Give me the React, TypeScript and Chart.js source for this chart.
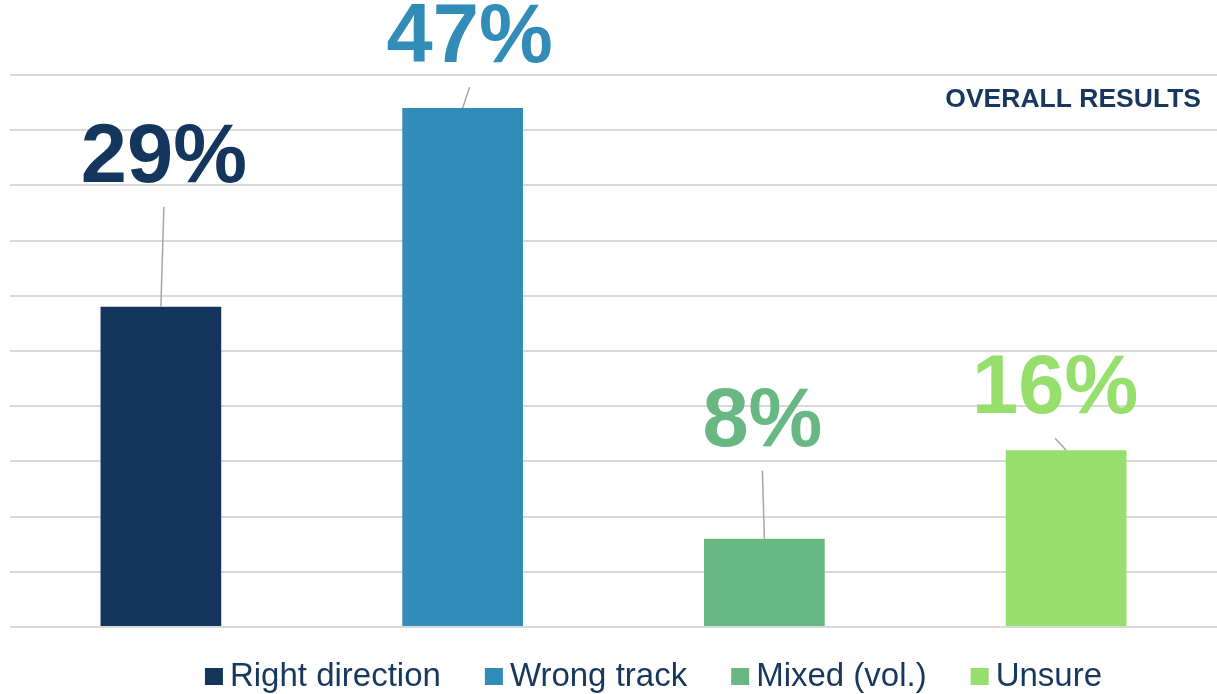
import React, { useEffect, useRef } from "react";
import { Chart, registerables } from "chart.js";

Chart.register(...registerables);

const categories = ["Right direction", "Wrong track", "Mixed (vol.)", "Unsure"];
const values = [29, 47, 8, 16];
const colors = ["#14365d", "#318cb8", "#69b884", "#96df6c"];
const yTicks = { min: 0, max: 50, step: 5 };
const panelTitle = "OVERALL RESULTS";
// label placement relative to bar top centre (px): [dx, dy to baseline]
const labelOffsets: [number, number][] = [
  [3, -125],
  [7, -46],
  [-2, -93],
  [-11, -37],
];

const LABEL_FONT = "bold 83px 'Liberation Sans', Arial, sans-serif";
const LEGEND_FONT = "33px 'Liberation Sans', Arial, sans-serif";
const TITLE_FONT = "bold 26.5px 'Liberation Sans', Arial, sans-serif";
const TEXT_COLOR = "#17375e";

const overlayPlugin = {
  id: "overlay",
  afterDatasetsDraw(chart: any) {
    const ctx = chart.ctx as CanvasRenderingContext2D;
    const meta = chart.getDatasetMeta(0);
    ctx.save();
    // data labels with leader lines
    meta.data.forEach((bar: any, i: number) => {
      const [dx, dy] = labelOffsets[i];
      const lx = bar.x + dx;
      const ly = bar.y + dy;
      ctx.strokeStyle = "#a6a6a6";
      ctx.lineWidth = 1.5;
      ctx.beginPath();
      ctx.moveTo(lx, ly + 25);
      ctx.lineTo(bar.x, bar.y);
      ctx.stroke();
      ctx.font = LABEL_FONT;
      ctx.fillStyle = colors[i];
      ctx.textAlign = "center";
      ctx.textBaseline = "alphabetic";
      ctx.fillText(values[i] + "%", lx, ly);
    });
    // panel title
    const area = chart.chartArea;
    ctx.font = TITLE_FONT;
    ctx.fillStyle = TEXT_COLOR;
    ctx.textAlign = "right";
    ctx.textBaseline = "alphabetic";
    ctx.fillText(panelTitle, area.right - 16, area.top + 32);
    // legend
    ctx.font = LEGEND_FONT;
    const box = 18;
    const gapText = 7;
    const gapItem = 44;
    const widths = categories.map((c) => ctx.measureText(c).width);
    const total =
      widths.reduce((a, b) => a + b, 0) + categories.length * (box + gapText) + (categories.length - 1) * gapItem;
    let x = (area.left + area.right) / 2 + 40 - total / 2;
    const cy = 676;
    ctx.textAlign = "left";
    ctx.textBaseline = "middle";
    categories.forEach((c, i) => {
      ctx.fillStyle = colors[i];
      ctx.fillRect(x, cy - 8, box, 17);
      x += box + gapText;
      ctx.fillStyle = TEXT_COLOR;
      ctx.fillText(c, x, cy + 1);
      x += widths[i] + gapItem;
    });
    ctx.restore();
  },
};

export default function App() {
  const canvasRef = useRef<HTMLCanvasElement | null>(null);

  useEffect(() => {
    if (!canvasRef.current) return;
    const chart = new Chart(canvasRef.current, {
      type: "bar",
      data: {
        labels: categories,
        datasets: [
          {
            data: values,
            backgroundColor: colors,
            borderWidth: 0,
            barPercentage: 0.4,
            categoryPercentage: 1,
          },
        ],
      },
      options: {
        animation: false,
        responsive: true,
        maintainAspectRatio: false,
        layout: { padding: { left: 10, right: 0, top: 75, bottom: 67 } },
        plugins: {
          legend: { display: false },
          tooltip: { enabled: false },
          title: { display: false },
        },
        scales: {
          x: { display: false },
          y: {
            min: yTicks.min,
            max: yTicks.max,
            ticks: { stepSize: yTicks.step, display: false },
            border: { display: false },
            grid: { color: "#d9d9d9", lineWidth: 2, drawTicks: false },
            afterFit: (scale: any) => {
              scale.width = 0;
            },
          },
        },
      },
      plugins: [overlayPlugin],
    });
    return () => chart.destroy();
  }, []);

  return (
    <div style={{ position: "fixed", left: 0, top: 0, width: 1217, height: 694, background: "#fff" }}>
      <canvas ref={canvasRef} />
    </div>
  );
}
